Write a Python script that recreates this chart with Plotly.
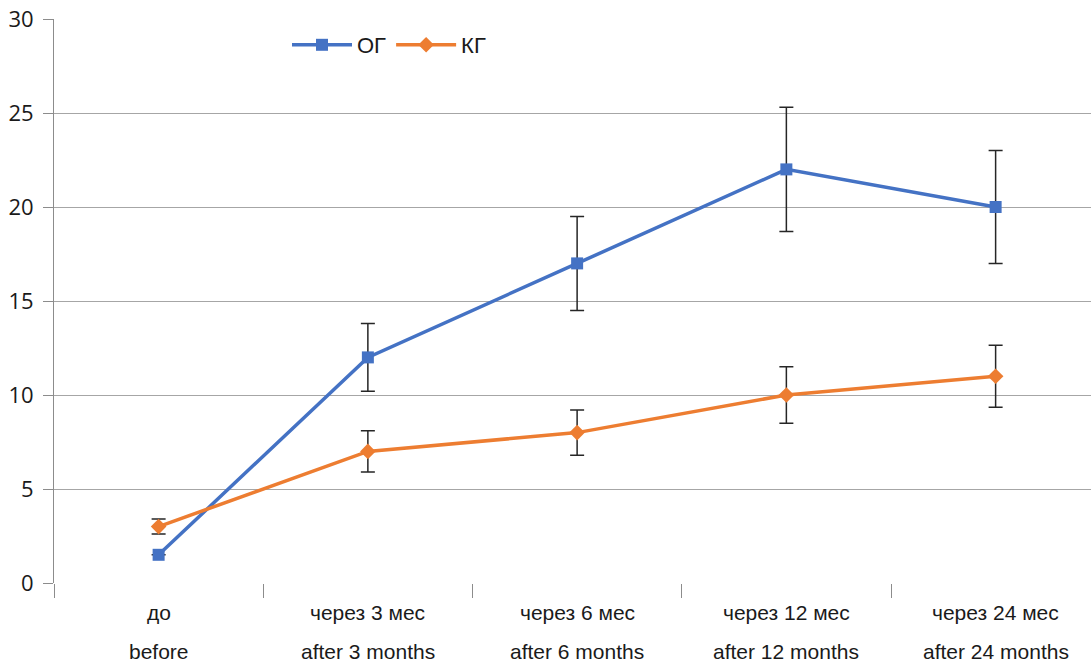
import plotly.graph_objects as go

categories_ru = ["до", "через 3 мес", "через 6 мес", "через 12 мес", "через 24 мес"]
categories_en = ["before", "after 3 months", "after 6 months", "after 12 months", "after 24 months"]
og_values = [1.5, 12, 17, 22, 20]
og_errors = [0, 1.8, 2.5, 3.3, 3.0]
kg_values = [3, 7, 8, 10, 11]
kg_errors = [0.4, 1.1, 1.2, 1.5, 1.65]
y_ticks = [0, 5, 10, 15, 20, 25, 30]

x_idx = list(range(len(categories_ru)))
BLUE = "#4472C4"
ORANGE = "#ED7D31"
TXT = "#1a1a1a"
FONT = "Liberation Sans, Arial"

FIG_W = 1091
FIG_H = 662

fig = go.Figure()
fig.add_trace(go.Scatter(
    x=x_idx, y=og_values, name="ОГ", mode="lines+markers",
    line=dict(color=BLUE, width=3.5),
    marker=dict(symbol="square", size=12, color=BLUE),
    error_y=dict(type="data", array=og_errors, visible=True, color="#262626", thickness=1.5, width=7),
))
fig.add_trace(go.Scatter(
    x=x_idx, y=kg_values, name="КГ", mode="lines+markers",
    line=dict(color=ORANGE, width=3.5),
    marker=dict(symbol="diamond", size=12, color=ORANGE),
    error_y=dict(type="data", array=kg_errors, visible=True, color="#262626", thickness=1.5, width=7),
))

plot_left = 54
plot_top = 19
plot_bottom = 583
plot_width = FIG_W - plot_left
plot_h = plot_bottom - plot_top
cat_px = 209.25
x_max = -0.5 + plot_width / cat_px

fig.update_xaxes(
    range=[-0.5, x_max],
    tickmode="array",
    tickvals=[i - 0.5 for i in x_idx] + [len(x_idx) - 0.5],
    ticktext=[""] * (len(x_idx) + 1),
    ticks="outside", ticklen=14, tickcolor="#8C8C8C", tickwidth=1,
    showgrid=False, zeroline=False, showline=False, automargin=False,
)
fig.update_yaxes(
    range=[0, 30], tickmode="array", tickvals=y_ticks,
    ticks="outside", ticklen=10, tickcolor="#8C8C8C", tickwidth=1,
    showgrid=True, gridcolor="#A6A6A6", gridwidth=1,
    showline=True, linecolor="#8C8C8C", linewidth=1,
    zeroline=False, automargin=False,
    tickfont=dict(family="Open Sans, Arial", size=22, color=TXT),
    ticklabelstandoff=5, ticklabeloverflow="allow",
)

ann = []
for i, (ru, en) in enumerate(zip(categories_ru, categories_en)):
    ann.append(dict(x=i, y=-(612 - plot_bottom) / plot_h, xref="x", yref="paper", text=ru, showarrow=False,
                    yanchor="middle", font=dict(family=FONT, size=21, color=TXT)))
    ann.append(dict(x=i, y=-(651 - plot_bottom) / plot_h, xref="x", yref="paper", text=en, showarrow=False,
                    yanchor="middle", font=dict(family=FONT, size=21, color=TXT)))

fig.update_layout(
    width=FIG_W, height=FIG_H,
    margin=dict(l=plot_left, r=0, t=plot_top, b=FIG_H - plot_bottom, autoexpand=False),
    paper_bgcolor="white", plot_bgcolor="white",
    showlegend=True,
    legend=dict(orientation="h", x=(287 - plot_left) / plot_width, y=1.0 - 5 / plot_h, xanchor="left", yanchor="top",
                font=dict(family=FONT, size=22, color=TXT),
                itemwidth=60, bgcolor="rgba(0,0,0,0)", tracegroupgap=0),
    annotations=ann,
)

fig.write_html("out.html", config={"displayModeBar": False},
               post_script="document.body.style.margin='0px';document.body.style.overflow='hidden';")
